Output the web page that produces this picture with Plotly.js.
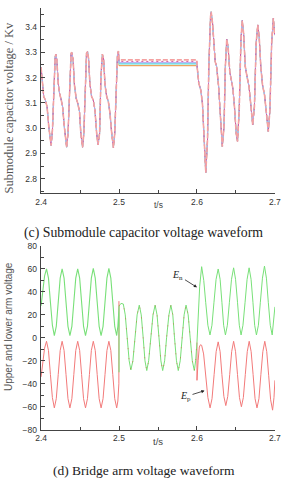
<!DOCTYPE html>
<html>
<head>
<meta charset="utf-8">
<script src="https://cdn.plot.ly/plotly-3.0.1.min.js"></script>
<style>
html,body{margin:0;padding:0;background:#fff;}
#chart{width:289px;height:480px;}
</style>
</head>
<body>
<div id="chart"></div>
<script>
// ---------- (c) Submodule capacitor voltage (kV) ----------
var smTimeA = [2.4000,2.4021,2.4034,2.4055,2.4077,2.4099,2.4116,2.4129,2.4146,2.4164,2.4181,2.4190,2.4202,2.4220,2.4237,2.4259,2.4276,2.4298,2.4315,2.4328,2.4346,2.4367,2.4385,2.4393,2.4411,2.4428,2.4450,2.4471,2.4493,2.4510,2.4532,2.4549,2.4570,2.4583,2.4596,2.4609,2.4626,2.4648,2.4670,2.4691,2.4713,2.4730,2.4751,2.4768,2.4787,2.4803,2.4820,2.4842,2.4863,2.4884,2.4906,2.4928,2.4945,2.4962,2.4980,2.4993,2.5000];
var smVoltA = [3.240,3.164,3.125,3.111,3.085,3.006,2.947,2.931,2.993,3.178,3.283,3.292,3.270,3.178,3.138,3.111,3.085,3.006,2.940,2.925,2.980,3.204,3.296,3.300,3.270,3.171,3.118,3.098,3.065,2.980,2.925,2.980,3.204,3.296,3.302,3.276,3.178,3.125,3.111,3.072,2.980,2.934,2.980,3.204,3.293,3.270,3.171,3.125,3.105,3.059,2.980,2.923,2.980,3.178,3.289,3.305,3.276];
var smTimeB = [2.6000,2.6023,2.6049,2.6070,2.6091,2.6113,2.6135,2.6152,2.6174,2.6182,2.6200,2.6217,2.6234,2.6252,2.6278,2.6304,2.6325,2.6347,2.6364,2.6382,2.6399,2.6421,2.6438,2.6460,2.6481,2.6503,2.6520,2.6542,2.6564,2.6581,2.6598,2.6620,2.6642,2.6668,2.6689,2.6715,2.6737,2.6759,2.6780,2.6798,2.6819,2.6841,2.6867,2.6889,2.6915,2.6936,2.6958,2.6980,2.6997];
var smVoltB = [3.250,3.178,3.151,3.098,2.953,2.824,2.953,3.243,3.441,3.460,3.414,3.309,3.263,3.243,3.164,3.032,2.927,3.006,3.243,3.351,3.322,3.223,3.190,3.158,3.085,2.980,2.947,3.072,3.349,3.425,3.375,3.243,3.204,3.164,3.098,3.013,3.085,3.336,3.408,3.362,3.243,3.171,3.131,3.072,2.986,3.072,3.336,3.434,3.368];
var blockedStart = 2.5, blockedEnd = 2.6;
var smHoldLevels = [3.247, 3.252, 3.256, 3.260, 3.264, 3.270];
var smColors = ['#e8903c', '#a6ece2', '#74d6e8', '#b4a8f0', '#d8559c', '#f4a2a2'];
var smWidths = [1, 1, 1, 1, 1, 1.6];
var smDash = ['solid', 'solid', 'solid', 'solid', '2px,3px', '5px,2px'];

// ---------- (d) Upper / lower arm voltage ----------
var armT1 = [2.400,2.402,2.4045,2.407,2.4095,2.412,2.4145,2.417,2.4195,2.422,2.4245,2.427,2.4295,2.432,2.4345,2.437,2.4395,2.442,2.4445,2.447,2.4495,2.452,2.4545,2.457,2.4595,2.462,2.4645,2.467,2.4695,2.472,2.4745,2.477,2.4795,2.482,2.4845,2.487,2.4895,2.492,2.4945,2.497,2.4985,2.4998];
var greenV1 = [28,42,54,60,52,31,11,2,10,31,52,60,52,31,10,2,10,31,52,60,52,31,10,2,10,31,52,60.5,52,31,10,2,10,31,52,60.5,52,31,10,2,10,24];
var redV1 = [-34,-22,-9,-3,-11,-32,-52,-61,-53,-32,-11,-3,-11,-32,-53,-61,-53,-32,-11,-3,-11,-32,-53,-61,-53,-32,-11,-3,-11,-32,-53,-61,-53,-32,-11,-3,-11,-32,-53,-61,-55,-40];
var greenSpikeT = [2.5, 2.5, 2.5];
var greenSpikeV = [27, -30, 28];
var redSpikeT = [2.4999, 2.4999];
var redSpikeV = [-30, 32];
var midT = [2.5003,2.5025,2.5055,2.508,2.5105,2.513,2.5152,2.5178,2.5205,2.5232,2.526,2.5285,2.531,2.5333,2.5356,2.538,2.5408,2.5436,2.5463,2.5488,2.5513,2.5537,2.556,2.5585,2.561,2.564,2.5665,2.569,2.5712,2.5737,2.576,2.5785,2.581,2.5835,2.586,2.5887,2.5913,2.594,2.5966,2.5983,2.6];
var midV = [28,30,29.5,20,0,-20,-28,-20,0,20,28.5,20,0,-20,-28.5,-20,0,20,28.5,20,0,-20,-28.5,-20,0,20,28.5,20,0,-20,-28.5,-20,0,20,28.5,20,0,-20,-28.5,-20,-4];
var greenT3 = [2.6018,2.6035,2.606,2.6087,2.6112,2.614,2.6167,2.6192,2.6218,2.6245,2.6272,2.6297,2.632,2.6342,2.6365,2.639,2.6416,2.6443,2.647,2.6495,2.652,2.6543,2.6566,2.659,2.6617,2.6643,2.6669,2.6694,2.6718,2.674,2.6763,2.6788,2.6813,2.684,2.6866,2.6891,2.6915,2.694,2.6965,2.699,2.7];
var greenV3 = [25,45,62,50,31,11,2.5,11,31,51,60,51,31,11,2.5,11,31,51,61,51,31,11,2.5,11,31,51,61,51,31,11,2.5,11,31,52,62.5,52,31,11,2.5,18,27];
var redT3 = [2.6,2.6015,2.603,2.6045,2.606,2.6085,2.611,2.614,2.6168,2.6193,2.622,2.6246,2.6272,2.6297,2.632,2.6345,2.637,2.6395,2.642,2.6445,2.647,2.6495,2.652,2.6545,2.657,2.6595,2.662,2.6645,2.667,2.6695,2.672,2.6745,2.677,2.6795,2.682,2.6845,2.687,2.6895,2.692,2.6945,2.697,2.6988,2.7];
var redV3 = [-37,-20,-8,-6,-6.5,-14,-33,-52,-61,-53,-32,-12,-3.5,-12,-32,-51,-59,-51,-32,-12,-3,-12,-32,-52,-60,-52,-32,-12,-3,-12,-32,-53,-61,-53,-32,-12,-3,-12,-33,-54,-63,-52,-37];

var greenColor = '#78e078';
var redColor = '#f27a7a';

// ---------- traces ----------
var traces = [];
for (var i = 0; i < smHoldLevels.length; i++) {
  traces.push({
    x: smTimeA.concat([blockedStart, blockedEnd]).concat(smTimeB),
    y: smVoltA.concat([smHoldLevels[i], smHoldLevels[i]]).concat(smVoltB),
    xaxis: 'x', yaxis: 'y', mode: 'lines', hoverinfo: 'skip',
    line: {color: smColors[i], width: smWidths[i], dash: smDash[i]}
  });
}
// lower arm (red) and upper arm (green)
traces.push({x: armT1.concat(redSpikeT), y: redV1.concat(redSpikeV), xaxis: 'x2', yaxis: 'y2', mode: 'lines',
  line: {color: redColor, width: 1}});
traces.push({x: armT1.concat(greenSpikeT), y: greenV1.concat(greenSpikeV), xaxis: 'x2', yaxis: 'y2', mode: 'lines',
  line: {color: greenColor, width: 1.1}});
traces.push({x: [2.6].concat(greenT3), y: [-4].concat(greenV3), xaxis: 'x2', yaxis: 'y2', mode: 'lines',
  line: {color: greenColor, width: 1}});
traces.push({x: [2.6].concat(redT3), y: [-4].concat(redV3), xaxis: 'x2', yaxis: 'y2', mode: 'lines',
  line: {color: redColor, width: 1}});
traces.push({x: [2.5].concat(midT), y: [28].concat(midV), xaxis: 'x2', yaxis: 'y2', mode: 'lines',
  line: {color: greenColor, width: 1}});
traces.push({x: [2.5].concat(midT), y: [28].concat(midV), xaxis: 'x2', yaxis: 'y2', mode: 'lines', opacity: 0.75,
  line: {color: '#d0704a', width: 1, dash: '1px,9px'}});

var tickFont = {family: 'Liberation Sans, Arial, sans-serif', size: 8.5, color: '#333'};
function axisBase() {
  return {
    showline: true, linecolor: '#444', linewidth: 1.3, mirror: false,
    ticks: 'inside', ticklen: 4, tickwidth: 1, tickcolor: '#444',
    showgrid: false, zeroline: false, tickfont: tickFont, fixedrange: true
  };
}
var H = 480, L = 41, W = 234;
function px(x) { return (x - L) / W; }
function py(y) { return 1 - y / H; }

var xa = Object.assign(axisBase(), {domain: [0, 1], anchor: 'y', range: [2.3999, 2.7001], tick0: 2.4, dtick: 0.1, tickformat: '.1f',
  minor: {ticks: 'inside', ticklen: 2.5, tick0: 2.4, dtick: 0.05, tickcolor: '#444'}, ticklabelstandoff: 1});
var ya = Object.assign(axisBase(), {domain: [py(192.7), py(8)], anchor: 'x', range: [2.745, 3.475], tick0: 2.8, dtick: 0.1, tickformat: '.1f',
  minor: {ticks: 'inside', ticklen: 2.5, tick0: 2.8, dtick: 0.05, tickcolor: '#444'}, ticklabelstandoff: 1});
var xa2 = Object.assign(axisBase(), {domain: [0, 1], anchor: 'y2', range: [2.3999, 2.7001], tick0: 2.4, dtick: 0.1, tickformat: '.1f',
  minor: {ticks: 'inside', ticklen: 2.5, tick0: 2.4, dtick: 0.05, tickcolor: '#444'}, ticklabelstandoff: 0});
var ya2 = Object.assign(axisBase(), {domain: [py(429.7), py(246)], anchor: 'x2', range: [-80.01, 80.01], tick0: -80, dtick: 20,
  minor: {ticks: 'inside', ticklen: 2.5, tick0: -80, dtick: 10, tickcolor: '#444'}, ticklabelstandoff: 1});

var serif = '"Liberation Serif", "Times New Roman", serif';
var sans = '"Liberation Sans", Arial, sans-serif';
var annotations = [
  {xref: 'paper', yref: 'paper', x: px(8.5), y: py(108), text: 'Submodule capacitor voltage / Kv', textangle: -90,
   showarrow: false, xanchor: 'center', yanchor: 'middle', font: {family: serif, size: 12.5, color: '#555'}},
  {xref: 'paper', yref: 'paper', x: px(158), y: py(205), text: 't/s', showarrow: false, xanchor: 'center', yanchor: 'middle',
   font: {family: sans, size: 8.5, color: '#444'}},
  {xref: 'paper', yref: 'paper', x: px(143), y: py(233), text: '(c) Submodule capacitor voltage waveform', showarrow: false,
   xanchor: 'center', yanchor: 'middle', font: {family: serif, size: 13.8, color: '#222'}},
  {xref: 'paper', yref: 'paper', x: px(8), y: py(327), text: 'Upper and lower arm voltage', textangle: -90,
   showarrow: false, xanchor: 'center', yanchor: 'middle', font: {family: sans, size: 10, color: '#555'}},
  {xref: 'paper', yref: 'paper', x: px(158), y: py(441.5), text: 't/s', showarrow: false, xanchor: 'center', yanchor: 'middle',
   font: {family: sans, size: 9.5, color: '#444'}},
  {xref: 'paper', yref: 'paper', x: px(143.5), y: py(470.7), text: '(d) Bridge arm voltage waveform', showarrow: false,
   xanchor: 'center', yanchor: 'middle', font: {family: serif, size: 13.5, color: '#222'}},
  {xref: 'x2', yref: 'y2', x: 2.6, y: 44, ax: -19, ay: -12, text: '<i>E</i><sub>n</sub>', showarrow: true,
   arrowhead: 2, arrowsize: 0.8, arrowwidth: 0.8, arrowcolor: '#222', font: {family: serif, size: 10, color: '#222'}},
  {xref: 'x2', yref: 'y2', x: 2.6097, y: -46, ax: -19, ay: 6, text: '<i>E</i><sub>p</sub>', showarrow: true,
   arrowhead: 2, arrowsize: 0.8, arrowwidth: 0.8, arrowcolor: '#222', font: {family: serif, size: 10, color: '#222'}}
];

var layout = {
  width: 289, height: 480, margin: {l: L, r: 14, t: 0, b: 0},
  paper_bgcolor: '#fff', plot_bgcolor: '#fff', showlegend: false,
  xaxis: xa, yaxis: ya, xaxis2: xa2, yaxis2: ya2, annotations: annotations
};
Plotly.newPlot('chart', traces, layout, {staticPlot: true, displayModeBar: false});
</script>
</body>
</html>
